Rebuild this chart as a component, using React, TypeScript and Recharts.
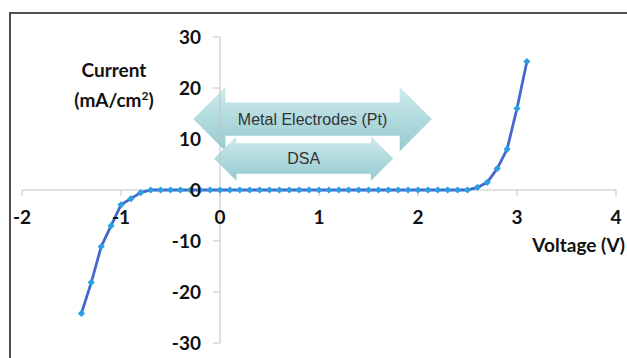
import React from 'react';
import { LineChart, Line, XAxis, YAxis, ReferenceLine, ReferenceDot, ReferenceArea } from 'recharts';

const voltage = [
  -1.4, -1.3, -1.2, -1.1, -1.0, -0.9, -0.8, -0.7, -0.6, -0.5, -0.4, -0.3, -0.2, -0.1,
  0.0, 0.1, 0.2, 0.3, 0.4, 0.5, 0.6, 0.7, 0.8, 0.9, 1.0, 1.1, 1.2, 1.3, 1.4, 1.5,
  1.6, 1.7, 1.8, 1.9, 2.0, 2.1, 2.2, 2.3, 2.4, 2.5, 2.6, 2.7, 2.8, 2.9, 3.0, 3.1,
];
const current = [
  -24.2, -18.1, -11.1, -7.0, -2.9, -1.7, -0.5, 0, 0, 0, 0, 0, 0, 0,
  0, 0, 0, 0, 0, 0, 0, 0, 0, 0, 0, 0, 0, 0, 0, 0,
  0, 0, 0, 0, 0, 0, 0, 0, 0, 0, 0.5, 1.5, 4.2, 8.0, 16.0, 25.2,
];
const xTicks = [-2, -1, 0, 1, 2, 3, 4];
const yTicks = [-30, -20, -10, 0, 10, 20, 30];

const arrowLabels = ['Metal Electrodes (Pt)', 'DSA'];
const arrowVFrom = [-0.27, -0.06];
const arrowVTo = [2.14, 1.75];
const arrowILow = [7.6, 1.8];
const arrowIHigh = [20.2, 10.55];
const arrowShaft = [0.52, 0.68];

const data = voltage.map((v, i) => ({ v, c: current[i] }));

const AXIS = '#c3c3c3';
const FONT = 'Lato, "Open Sans", sans-serif';
const FS = 19;

const Diamond = (p: any) => {
  const { cx, cy } = p;
  if (cx == null || cy == null) return null;
  const s = 3.6;
  return <path d={`M${cx},${cy - s}L${cx + s},${cy}L${cx},${cy + s}L${cx - s},${cy}Z`} fill="#2a9fe4" />;
};

const DoubleArrow = (p: any) => {
  const { x, y, width, height, text, shaft, gid } = p;
  const cy = y + height / 2;
  const hl = height * 0.5;
  const sh = (height * shaft) / 2;
  const pts = [
    [x, cy], [x + hl, y], [x + hl, cy - sh], [x + width - hl, cy - sh], [x + width - hl, y],
    [x + width, cy], [x + width - hl, y + height], [x + width - hl, cy + sh], [x + hl, cy + sh], [x + hl, y + height],
  ].map((q) => q.join(',')).join(' ');
  return (
    <g>
      <defs>
        <linearGradient id={gid} x1="0" y1="0" x2="0" y2="1">
          <stop offset="0%" stopColor="#d0ebed" />
          <stop offset="100%" stopColor="#93cacf" />
        </linearGradient>
      </defs>
      <polygon points={pts} fill={`url(#${gid})`} />
      <text x={x + width / 2} y={cy} textAnchor="middle" dominantBaseline="central"
        fontFamily='"Liberation Sans", Arial, sans-serif' fontSize={16} fill="#333">{text}</text>
    </g>
  );
};

export default function App() {
  return (
    <div style={{ position: 'absolute', left: 0, top: 0, width: 627, height: 358, background: '#fff', overflow: 'hidden' }}>
      <div style={{ position: 'absolute', left: 9, top: 12, width: 640, height: 360, borderTop: '2px solid #4f4f4f', borderLeft: '2px solid #4f4f4f' }} />
      <LineChart width={627} height={358} data={data} margin={{ top: 37, right: 11, bottom: 15, left: 22 }}>
        <XAxis dataKey="v" type="number" domain={[-2, 4]} ticks={xTicks} hide />
        <YAxis type="number" domain={[-30, 30]} ticks={yTicks} hide />
        <ReferenceLine y={0} stroke={AXIS} strokeWidth={1} />
        <ReferenceLine x={0} stroke={AXIS} strokeWidth={1} />
        {xTicks.map((t) => (
          <ReferenceLine key={'xt' + t} segment={[{ x: t, y: 0 }, { x: t, y: -1.2 }]} stroke={AXIS} strokeWidth={1} />
        ))}
        {yTicks.map((t) => (
          <ReferenceLine key={'yt' + t} segment={[{ x: 0, y: t }, { x: -0.07, y: t }]} stroke={AXIS} strokeWidth={1} />
        ))}
        {arrowLabels.map((lab, i) => (
          <ReferenceArea key={'ar' + i} x1={arrowVFrom[i]} x2={arrowVTo[i]} y1={arrowILow[i]} y2={arrowIHigh[i]}
            shape={(p: any) => <DoubleArrow {...p} text={lab} shaft={arrowShaft[i]} gid={'grad' + i} />} />
        ))}
        <Line type="linear" dataKey="c" stroke="#4468cc" strokeWidth={2.8} isAnimationActive={false}
          dot={(p: any) => <Diamond key={'d' + p.index} {...p} />} />
        {xTicks.map((t) => (
          <ReferenceDot key={'xl' + t} x={t} y={0} r={0} fill="none" stroke="none"
            label={{ value: String(t), position: 'bottom', offset: 21, fill: '#111', fontSize: FS, fontWeight: 700, fontFamily: FONT }} />
        ))}
        {yTicks.map((t) => (
          <ReferenceDot key={'yl' + t} x={0} y={t} r={0} fill="none" stroke="none"
            label={{ value: String(t), position: 'left', offset: 19, fill: '#111', fontSize: FS, fontWeight: 700, fontFamily: FONT }} />
        ))}
      </LineChart>
      <div style={{ position: 'absolute', left: 34, top: 55, width: 160, textAlign: 'center', fontFamily: FONT, fontWeight: 700, fontSize: FS, color: '#111', lineHeight: '30px' }}>
        Current<br />(mA/cm<sup style={{ fontSize: 12, verticalAlign: 'top', lineHeight: '22px' }}>2</sup>)
      </div>
      <div style={{ position: 'absolute', right: 2, top: 232, fontFamily: FONT, fontWeight: 700, fontSize: FS, color: '#111', whiteSpace: 'nowrap', lineHeight: '26px' }}>
        Voltage (V)
      </div>
    </div>
  );
}
